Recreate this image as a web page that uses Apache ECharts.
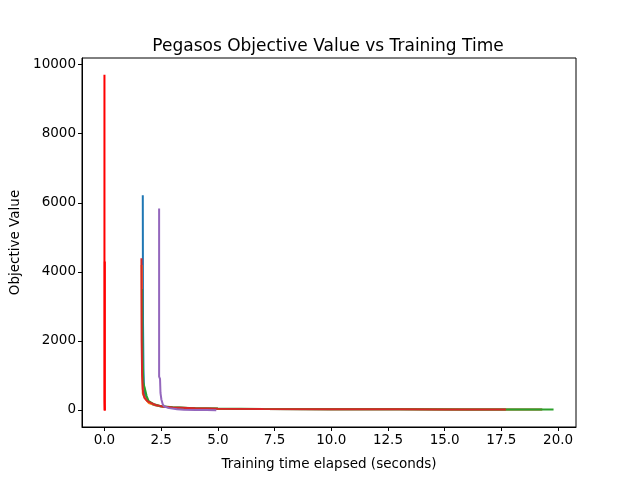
<!DOCTYPE html>
<html>
<head>
<meta charset="utf-8">
<script src="https://cdn.jsdelivr.net/npm/echarts@6/dist/echarts.min.js"></script>
<style>
  html, body { margin: 0; padding: 0; background: #fff; }
  #chart { width: 640px; height: 480px; }
</style>
</head>
<body>
<div id="chart"></div>
<script>
// tick labels
var xTicks = [0, 2.5, 5, 7.5, 10, 12.5, 15, 17.5, 20];
var yTicks = [0, 2000, 4000, 6000, 8000, 10000];

// runs: [time, objective]
var runBlue = [[1.69, 6220], [1.70, 2500], [1.72, 1200], [1.74, 700], [1.78, 450], [1.85, 330], [1.95, 230], [2.15, 150], [2.45, 100], [3, 70], [4, 45], [5, 35], [7, 25], [10, 18], [13, 14], [16, 12], [19.3, 10]];
var runOrange = [[1.64, 4200], [1.66, 1500], [1.68, 800], [1.69, 480], [1.74, 400], [1.85, 280], [1.95, 200], [2.25, 130], [2.6, 90], [3, 68], [4, 44], [5, 34], [7, 24], [10, 18], [13, 14], [16, 12], [19.3, 10]];
var runGreen = [[1.66, 3500], [1.68, 1500], [1.71, 800], [1.78, 620], [1.84, 640], [1.86, 400], [1.95, 250], [2.15, 170], [2.45, 110], [3, 75], [4, 48], [5, 36], [7, 26], [10, 18], [13, 14], [16, 12], [19.8, 10]];
var runRed = [[1.63, 4390], [1.64, 2000], [1.66, 1000], [1.69, 600], [1.72, 450], [1.76, 350], [1.84, 300], [1.89, 250], [1.94, 260], [2.05, 200], [2.25, 140], [2.55, 100], [3, 70], [4, 45], [5, 35], [7, 25], [10, 18], [13, 14], [15, 12], [17.7, 10]];
var runPurple = [[2.41, 5830], [2.41, 3000], [2.41, 960], [2.45, 900], [2.47, 490], [2.51, 300], [2.57, 160], [2.64, 95], [2.85, 50], [3.2, 20], [3.5, 5], [4, -5], [4.5, -8], [4.93, -10]];
var runFirstA = [[0.0, 9710], [0.0, 300], [0.005, -20]];
var runFirstB = [[0.015, 4300], [0.015, 200], [0.02, -20]];

var chart = echarts.init(document.getElementById('chart'));

var font = 'DejaVu Sans';

function line(data, color) {
    return {
        type: 'line',
        data: data,
        showSymbol: false,
        symbol: 'none',
        lineStyle: { color: color, width: 2 },
        itemStyle: { color: color }
    };
}

var option = {
    animation: false,
    title: {
        text: 'Pegasos Objective Value vs Training Time',
        left: 323,
        textAlign: 'center',
        top: 33,
        textStyle: { fontFamily: font, fontSize: 17, fontWeight: 'normal', color: '#000' }
    },
    grid: {
        left: 80, right: 64, top: 58, bottom: 53,
        show: true, borderColor: '#000', borderWidth: 1
    },
    xAxis: {
        type: 'value',
        min: -0.99,
        max: 20.79,
        name: 'Training time elapsed (seconds)',
        nameLocation: 'middle',
        nameGap: 30,
        nameTextStyle: { fontFamily: font, fontSize: 13.5, color: '#000' },
        splitLine: { show: false },
        axisLine: { onZero: false, lineStyle: { color: '#000' } },
        axisTick: { show: true, length: 4, inside: false, customValues: xTicks, lineStyle: { color: '#000' } },
        axisLabel: {
            customValues: xTicks,
            margin: 6,
            fontFamily: font, fontSize: 13.5, color: '#000',
            formatter: function (v) { return v.toFixed(1); }
        }
    },
    yAxis: {
        type: 'value',
        min: -497,
        max: 10194,
        name: 'Objective Value',
        nameLocation: 'middle',
        nameGap: 60,
        nameTextStyle: { fontFamily: font, fontSize: 13.5, color: '#000' },
        splitLine: { show: false },
        axisLine: { show: true, onZero: false, lineStyle: { color: '#000' } },
        axisTick: { show: true, length: 4, inside: false, customValues: yTicks, lineStyle: { color: '#000' } },
        axisLabel: {
            customValues: yTicks,
            margin: 6,
            fontFamily: font, fontSize: 13.5, color: '#000',
            formatter: function (v) { return String(v); }
        }
    },
    series: [
        line(runBlue, '#1f77b4'),
        line(runOrange, '#ff7f0e'),
        line(runGreen, '#2ca02c'),
        line(runRed, '#d62728'),
        line(runPurple, '#9467bd'),
        line(runFirstA, '#ff0000'),
        line(runFirstB, '#ff0000')
    ]
};

chart.setOption(option);
</script>
</body>
</html>
